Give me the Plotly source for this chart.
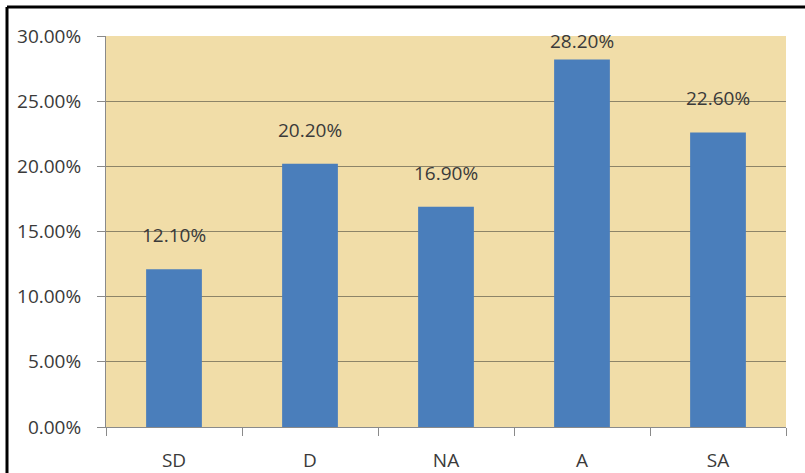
import plotly.graph_objects as go

categories = ["SD", "D", "NA", "A", "SA"]
values = [12.10, 20.20, 16.90, 28.20, 22.60]
y_ticks = [0, 5, 10, 15, 20, 25, 30]
y_tick_labels = ["0.00%", "5.00%", "10.00%", "15.00%", "20.00%", "25.00%", "30.00%"]

W, H = 805, 473
ML, MR, MT, MB = 106, 19, 36, 46
plot_w = W - ML - MR
plot_h = H - MT - MB
y_max = 30
px_per = plot_h / y_max

FONT = "Open Sans"
TXT = "#3a3a3a"

fig = go.Figure()
fig.add_trace(go.Bar(
    x=categories, y=values,
    marker=dict(color="#4A7EBB", line=dict(width=0)),
    hoverinfo="skip",
))

for c, v in zip(categories, values):
    shift = min(34, (y_max - v) * px_per - 5)
    fig.add_annotation(
        x=c, y=v, xref="x", yref="y", text=f"{v:.2f}%",
        showarrow=False, yanchor="middle", yshift=shift,
        font=dict(family=FONT, size=19, color=TXT),
    )

# outer black frame: only its left and top edges are inside the picture
fx = (7 - ML) / plot_w
fy = (H - MB - 7) / plot_h
fig.add_shape(type="line", xref="paper", yref="paper",
              x0=fx, x1=fx, y0=-(MB + 10) / plot_h, y1=fy,
              line=dict(color="black", width=3), layer="above")
fig.add_shape(type="line", xref="paper", yref="paper",
              x0=fx, x1=(W + 10 - ML) / plot_w, y0=fy, y1=fy,
              line=dict(color="black", width=3), layer="above")

fig.update_layout(
    width=W, height=H,
    margin=dict(l=ML, r=MR, t=MT, b=MB, autoexpand=False),
    paper_bgcolor="white",
    plot_bgcolor="#F1DDA8",
    bargap=0.59,
    showlegend=False,
    font=dict(family=FONT, size=19, color=TXT),
    xaxis=dict(
        showgrid=False, showline=True, linecolor="#8a8a8a", linewidth=1,
        ticks="outside", ticklen=8, tickcolor="#8a8a8a", tickson="boundaries",
        tickfont=dict(family=FONT, size=19, color=TXT),
        ticklabelstandoff=16, automargin=False, fixedrange=True,
    ),
    yaxis=dict(
        range=[0, y_max], tickmode="array", tickvals=y_ticks, ticktext=y_tick_labels,
        showgrid=True, gridcolor="#8d8468", gridwidth=1,
        showline=True, linecolor="#8a8a8a", linewidth=1,
        ticks="outside", ticklen=8, tickcolor="#8a8a8a",
        tickfont=dict(family=FONT, size=19, color=TXT),
        ticklabelstandoff=12, automargin=False, zeroline=False, fixedrange=True,
    ),
)

fig.write_html("out.html")
